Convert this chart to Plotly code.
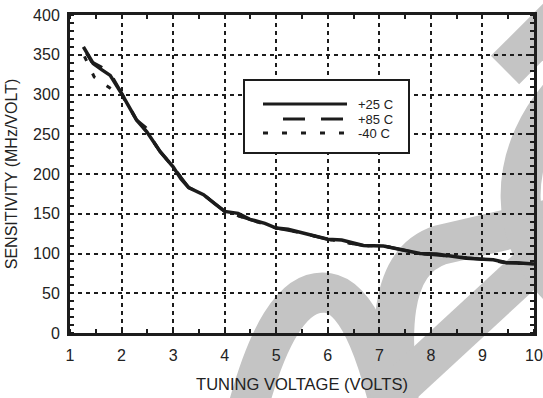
import plotly.graph_objects as go

# ---- data ----
volts_25 = [1.26, 1.45, 1.62, 1.78, 2.0, 2.15, 2.29, 2.49, 2.6, 2.75, 3.0, 3.15, 3.3, 3.59, 3.8,
            4.0, 4.26, 4.49, 4.78, 5.0, 5.23, 5.52, 5.78, 6.0, 6.27, 6.45, 6.69, 7.08, 7.46,
            7.79, 8.11, 8.37, 8.69, 9.02, 9.21, 9.47, 9.66, 10.0]
sens_25 = [360, 339, 331, 324, 301, 285, 268, 253, 243, 228, 209, 194, 183, 174, 163,
           153, 150.5, 143, 138, 132, 130.5, 125.5, 122, 118, 117, 114, 110, 109.5, 104.5,
           100, 99.5, 97, 94, 92.7, 92, 88.5, 88.3, 86.8]

volts_85 = [1.32, 1.42, 1.6, 1.78, 2.0, 2.29, 2.47, 2.6, 2.75, 3.0, 3.3, 3.59, 4.0, 4.49,
            5.0, 5.52, 6.0, 6.69, 7.08, 7.79, 8.37, 9.02, 9.47, 10.0]
sens_85 = [352, 341, 335, 327, 302, 268, 258.5, 243, 228, 209, 183, 174, 153, 143,
           132, 125.5, 118, 110, 109.5, 100, 97, 92.7, 88.5, 86.8]

volts_m40 = [1.28, 1.47, 1.83, 2.0, 2.29, 2.49, 2.75, 3.0, 3.3, 3.59, 4.0, 4.49, 5.0,
             5.52, 6.0, 6.69, 7.08, 7.79, 8.37, 9.02, 9.47, 10.0]
sens_m40 = [348, 322, 305.6, 300, 268, 253, 228, 209, 183, 174, 153, 143, 132,
            125.5, 118, 110, 109.5, 100, 97, 92.7, 88.5, 86.8]

series_names = ["+25 C", "+85 C", "-40 C"]
x_ticks = [1, 2, 3, 4, 5, 6, 7, 8, 9, 10]
y_ticks = [0, 50, 100, 150, 200, 250, 300, 350, 400]

# ---- layout geometry ----
W, H = 543, 398
ML, MR, MT, MB = 70, 9, 15, 65
PW, PH = W - ML - MR, H - MT - MB
INK = "#1c1c1c"
FONT = "Liberation Sans, Arial, sans-serif"


def px(x, y):
    return (x - ML) / PW, (H - MB - y) / PH


def path_from(cmds):
    out = []
    for c in cmds:
        if isinstance(c, str):
            out.append(c)
        else:
            xx, yy = px(*c)
            out.append(f"{xx:.4f},{yy:.4f}")
    return " ".join(out)


fig = go.Figure()

fig.add_trace(go.Scatter(x=volts_25, y=sens_25, mode="lines", name=series_names[0],
                         line=dict(color=INK, width=3.5), showlegend=False))
fig.add_trace(go.Scatter(x=volts_85, y=sens_85, mode="lines", name=series_names[1],
                         line=dict(color=INK, width=3, dash="22px,16px"), showlegend=False))
fig.add_trace(go.Scatter(x=volts_m40, y=sens_m40, mode="lines", name=series_names[2],
                         line=dict(color=INK, width=3, dash="5px,14px"), showlegend=False))

shapes = []
# watermark (grey background strokes)
GREY = "#c4c4c4"
wm_paths = [
    ["M", (240, 440), "C", (265, 330), (295, 288), (328, 293), "C", (360, 298), (380, 360), (398, 440)],
    ["M", (405, 440), "C", (385, 330), (390, 262), (440, 245), "L", (540, 222), "L", (575, 212)],
    ["M", (380, 405), "L", (575, 225)],
    ["M", (575, 300), "C", (505, 250), (500, 150), (575, 80)],
    ["M", (505, 70), "L", (575, 0)],
]
for p in wm_paths:
    shapes.append(dict(type="path", xref="paper", yref="paper", path=path_from(p),
                       line=dict(color=GREY, width=40), layer="below"))

# legend box
x0, y0 = px(244, 80)
x1, y1 = px(409, 153)
shapes.append(dict(type="rect", xref="paper", yref="paper", x0=x0, y0=y1, x1=x1, y1=y0,
                   line=dict(color=INK, width=2), fillcolor="white", layer="above"))
leg_rows = [(104, "solid", 263), (119, "22px,16px", 283), (133, "5px,14px", 263)]
annotations = []
for (yy, dash, xs), name in zip(leg_rows, series_names):
    a0, b0 = px(xs, yy)
    a1, _ = px(347, yy)
    shapes.append(dict(type="line", xref="paper", yref="paper", x0=a0, y0=b0, x1=a1, y1=b0,
                       line=dict(color=INK, width=3, dash=dash), layer="above"))
    tx, ty = px(356, yy)
    annotations.append(dict(xref="paper", yref="paper", x=tx, y=ty, text=name,
                            showarrow=False, xanchor="left", yanchor="middle",
                            font=dict(family=FONT, size=13, color="#222")))

axis_common = dict(
    showline=True, linecolor=INK, linewidth=3, mirror="ticks",
    showgrid=True, gridcolor=INK, gridwidth=2, griddash="4px,4px",
    zeroline=False, ticks="", automargin=False,
    tickfont=dict(family=FONT, size=16, color="#222"),
)

fig.update_layout(
    width=W, height=H,
    margin=dict(l=ML, r=MR, t=MT, b=MB),
    paper_bgcolor="white", plot_bgcolor="rgba(0,0,0,0)",
    showlegend=False,
    shapes=shapes, annotations=annotations,
    xaxis=dict(range=[1, 10], tickvals=x_ticks, ticklabelstandoff=6,
               title=dict(text="TUNING VOLTAGE (VOLTS)", standoff=16,
                          font=dict(family=FONT, size=16.5, color="#222")),
               minor=dict(dtick=0.5, tick0=1, ticks="inside", ticklen=4, tickwidth=1.5,
                          tickcolor=INK, showgrid=False),
               **axis_common),
    yaxis=dict(range=[0, 400], tickvals=y_ticks, ticklabelstandoff=4,
               title=dict(text="SENSITIVITY (MHz/VOLT)", standoff=12,
                          font=dict(family=FONT, size=16, color="#222")),
               minor=dict(dtick=10, tick0=0, ticks="inside", ticklen=4, tickwidth=1.5,
                          tickcolor=INK, showgrid=False),
               **axis_common),
)

fig.write_html(
    "out.html",
    config={"displayModeBar": False},
    post_script="document.body.style.margin='0';document.body.style.overflow='hidden';",
)
